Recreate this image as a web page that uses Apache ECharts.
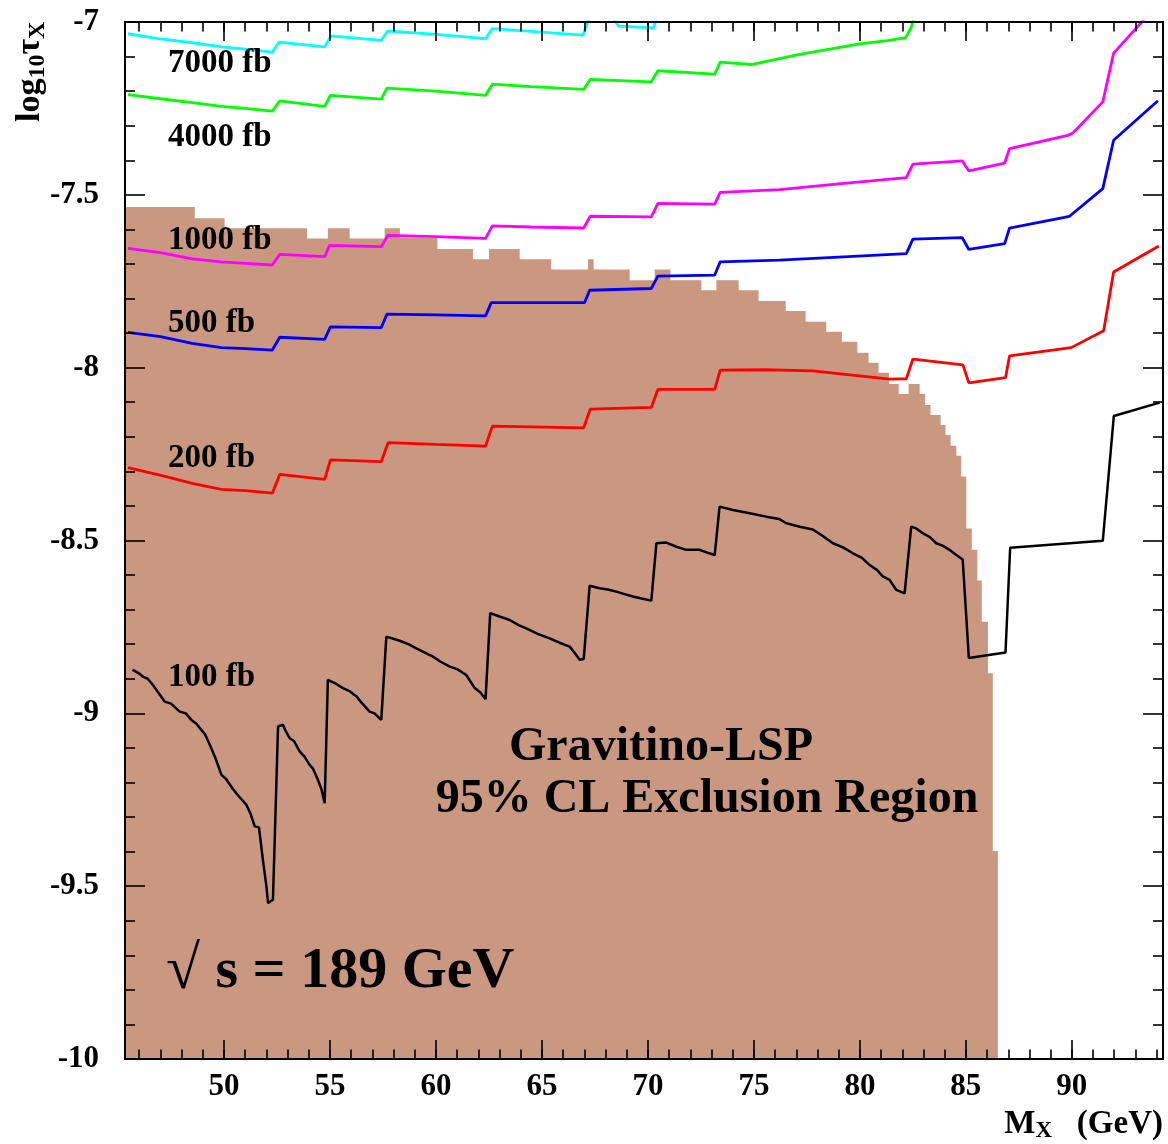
<!DOCTYPE html>
<html><head><meta charset="utf-8">
<script src="https://cdn.jsdelivr.net/npm/echarts/dist/echarts.min.js"></script>
<style>html,body{margin:0;padding:0;background:#fff}#c{width:1168px;height:1144px}</style>
</head><body><div id="c"></div>
<script>
// ---------- axis ranges / ticks ----------
const X_MIN = 45.33, X_MAX = 94.3;
const Y_MIN = -10, Y_MAX = -7;

// ---------- exclusion region (histogram bins) ----------
const exclEdges = [45.33, 48.62, 50.03, 53.92, 54.9, 55.93, 57.58, 58.3, 60.07, 61.75, 62.5, 63.95, 65.44, 67.17, 67.44, 69.14, 70.32, 71.06, 72.52, 73.23, 74.28, 75.22, 76.5, 77.44, 78.41, 79.15, 79.88, 80.41, 80.88, 81.37, 81.83, 82.3, 82.82, 83.08, 83.33, 83.81, 84.04, 84.28, 84.55, 84.78, 85.02, 85.28, 85.54, 85.75, 86.04, 86.27, 86.51];
const exclHeights = [-7.535, -7.568, -7.597, -7.626, -7.597, -7.626, -7.597, -7.624, -7.657, -7.686, -7.657, -7.686, -7.716, -7.686, -7.716, -7.747, -7.716, -7.747, -7.776, -7.747, -7.776, -7.807, -7.836, -7.867, -7.896, -7.925, -7.957, -7.986, -8.015, -8.047, -8.076, -8.047, -8.076, -8.108, -8.137, -8.166, -8.195, -8.226, -8.255, -8.315, -8.465, -8.527, -8.616, -8.735, -8.884, -9.398];

// ---------- sensitivity curves ----------
const cyanX = [45.47, 46.9, 48.5, 49.9, 51.2, 52.28, 52.6, 54.75, 55.05, 57.42, 57.72, 60.0, 62.34, 62.66, 64.5, 66.93, 67.28, 68.4, 68.6, 70.27, 70.45];
const cyanY = [-7.034, -7.048, -7.06, -7.072, -7.08, -7.087, -7.058, -7.072, -7.040, -7.053, -7.026, -7.036, -7.048, -7.019, -7.027, -7.038, -6.98, -6.99, -7.012, -7.017, -6.98];

const greenX = [45.47, 47.0, 48.5, 49.88, 51.0, 52.28, 52.63, 54.75, 55.02, 57.42, 57.69, 60.0, 62.34, 62.66, 64.5, 66.97, 67.28, 70.16, 70.47, 73.15, 73.41, 74.87, 76.2, 77.16, 79.99, 81.4, 82.16, 82.42, 82.6];
const greenY = [-7.21, -7.222, -7.233, -7.244, -7.25, -7.258, -7.228, -7.244, -7.212, -7.223, -7.191, -7.2, -7.212, -7.18, -7.187, -7.195, -7.166, -7.173, -7.141, -7.151, -7.116, -7.123, -7.106, -7.094, -7.063, -7.053, -7.045, -7.016, -6.98];

const magX = [45.47, 47.0, 48.5, 49.88, 51.0, 52.28, 52.63, 54.75, 54.98, 57.42, 57.74, 60.0, 62.34, 62.66, 64.5, 66.97, 67.28, 70.16, 70.47, 73.15, 73.41, 76.2, 79.0, 82.19, 82.5, 84.83, 85.14, 86.83, 87.06, 89.81, 90.05, 91.46, 91.97, 93.6];
const magY = [-7.655, -7.667, -7.685, -7.694, -7.698, -7.703, -7.672, -7.679, -7.646, -7.65, -7.617, -7.621, -7.626, -7.59, -7.593, -7.596, -7.562, -7.564, -7.525, -7.527, -7.493, -7.485, -7.468, -7.45, -7.411, -7.402, -7.431, -7.408, -7.366, -7.328, -7.321, -7.231, -7.09, -6.98];

const blueX = [45.47, 47.0, 48.5, 49.88, 51.0, 52.28, 52.63, 54.75, 55.02, 57.42, 57.69, 60.0, 62.34, 62.61, 64.5, 67.01, 67.25, 70.16, 70.47, 73.15, 73.41, 76.2, 79.0, 82.19, 82.5, 84.83, 85.14, 86.83, 87.06, 89.89, 91.46, 91.97, 94.06];
const blueY = [-7.898, -7.91, -7.93, -7.942, -7.945, -7.949, -7.912, -7.918, -7.882, -7.884, -7.845, -7.847, -7.85, -7.812, -7.812, -7.812, -7.776, -7.771, -7.735, -7.732, -7.694, -7.689, -7.68, -7.67, -7.628, -7.624, -7.658, -7.641, -7.596, -7.562, -7.482, -7.342, -7.228];

const redX = [45.47, 47.13, 48.5, 49.88, 51.0, 52.28, 52.63, 54.75, 55.02, 57.42, 57.74, 60.0, 62.34, 62.66, 64.5, 66.97, 67.28, 70.16, 70.47, 73.15, 73.41, 75.5, 77.78, 81.4, 82.19, 82.5, 84.86, 85.14, 86.87, 87.06, 89.97, 91.5, 91.97, 94.1];
const redY = [-8.289, -8.313, -8.335, -8.352, -8.356, -8.363, -8.309, -8.323, -8.267, -8.272, -8.217, -8.222, -8.227, -8.169, -8.171, -8.174, -8.12, -8.115, -8.063, -8.063, -8.007, -8.006, -8.009, -8.033, -8.032, -7.975, -7.992, -8.044, -8.029, -7.966, -7.942, -7.893, -7.723, -7.648];

const blackX = [45.68, 45.79, 46.0, 46.18, 46.4, 46.65, 46.9, 47.2, 47.5, 47.91, 48.2, 48.46, 48.7, 48.93, 49.1, 49.33, 49.6, 49.88, 50.1, 50.42, 50.7, 51.06, 51.25, 51.45, 51.65, 51.84, 52.0, 52.08, 52.31, 52.55, 52.78, 52.9, 53.1, 53.3, 53.57, 53.8, 54.04, 54.2, 54.43, 54.6, 54.75, 54.9, 55.07, 55.3, 55.61, 55.9, 56.25, 56.5, 56.87, 57.1, 57.42, 57.66, 58.29, 58.7, 59.07, 59.5, 59.86, 60.2, 60.65, 61.0, 61.43, 61.83, 62.1, 62.34, 62.56, 63.0, 63.48, 63.9, 64.26, 64.8, 65.36, 65.8, 66.31, 66.6, 66.78, 66.97, 67.25, 67.72, 68.1, 68.51, 68.9, 69.29, 69.7, 70.16, 70.4, 70.87, 71.34, 71.81, 72.44, 72.8, 73.15, 73.38, 74.01, 74.8, 75.58, 76.2, 76.53, 77.16, 77.78, 78.2, 78.73, 79.2, 79.67, 80.1, 80.46, 80.8, 81.08, 81.4, 81.72, 82.11, 82.42, 82.66, 82.97, 83.3, 83.6, 83.9, 84.23, 84.5, 84.85, 85.14, 86.87, 87.09, 91.46, 91.98, 94.14];
const blackY = [-8.874, -8.877, -8.885, -8.894, -8.9, -8.918, -8.94, -8.966, -8.972, -8.995, -9.0, -9.019, -9.03, -9.048, -9.06, -9.091, -9.13, -9.178, -9.19, -9.219, -9.24, -9.265, -9.29, -9.327, -9.33, -9.426, -9.5, -9.549, -9.539, -9.038, -9.033, -9.05, -9.072, -9.08, -9.11, -9.125, -9.149, -9.16, -9.192, -9.22, -9.26, -8.903, -8.908, -8.915, -8.927, -8.935, -8.951, -8.97, -8.995, -9.0, -9.019, -8.778, -8.79, -8.80, -8.812, -8.825, -8.836, -8.85, -8.865, -8.872, -8.889, -8.927, -8.94, -8.959, -8.71, -8.72, -8.73, -8.745, -8.754, -8.77, -8.783, -8.795, -8.807, -8.83, -8.845, -8.843, -8.631, -8.638, -8.642, -8.648, -8.655, -8.662, -8.668, -8.674, -8.508, -8.506, -8.518, -8.527, -8.527, -8.535, -8.542, -8.402, -8.412, -8.421, -8.431, -8.438, -8.45, -8.46, -8.468, -8.485, -8.508, -8.52, -8.537, -8.55, -8.571, -8.585, -8.604, -8.614, -8.643, -8.653, -8.46, -8.465, -8.479, -8.49, -8.508, -8.515, -8.527, -8.54, -8.555, -8.84, -8.824, -8.521, -8.501, -8.14, -8.101];

// ---------- texts ----------
const curveLabels = ['7000 fb', '4000 fb', '1000 fb', '500 fb', '200 fb', '100 fb'];
const curveLabelY = [63, 137, 240, 323, 458, 677];

const FONT = '"Liberation Serif","Times New Roman",serif';
const TAN = '#CA9880';

const chart = echarts.init(document.getElementById('c'), null, {renderer: 'canvas'});

function xAx(pos, major, labels) {
  return {
    type: 'value', position: pos, min: X_MIN, max: X_MAX,
    splitNumber: major ? 10 : 49, minInterval: major ? 5 : 1, maxInterval: major ? 5 : 1,
    axisLine: {show: true, onZero: false, lineStyle: {color: '#000', width: 2}},
    axisTick: {show: true, inside: true, length: major ? 19 : 9.5, lineStyle: {color: '#000', width: 1.6}},
    axisLabel: {show: labels, showMinLabel: false, showMaxLabel: false, color: '#000',
      fontFamily: FONT, fontWeight: 'bold', fontSize: 31, margin: 12},
    splitLine: {show: false}, axisPointer: {show: false}, z: 10
  };
}
function yAx(pos, labels) {
  return {
    type: 'value', position: pos, min: Y_MIN, max: Y_MAX, interval: 0.5,
    axisLine: {show: true, onZero: false, lineStyle: {color: '#000', width: 2}},
    axisTick: {show: true, inside: true, length: 20, lineStyle: {color: '#000', width: 1.6}},
    minorTick: {show: true, splitNumber: 5, length: 10, lineStyle: {color: '#000', width: 1.6}},
    axisLabel: {show: labels, color: '#000', fontFamily: FONT, fontWeight: 'bold', fontSize: 31, margin: 26},
    splitLine: {show: false}, minorSplitLine: {show: false}, axisPointer: {show: false}, z: 10
  };
}

function line(xs, ys, color, width) {
  return {type: 'line', data: xs.map((x, i) => [x, ys[i]]), symbol: 'none', showSymbol: false,
    lineStyle: {color: color, width: width}, itemStyle: {color: color}, clip: true, silent: true, z: 3,
    xAxisIndex: 0, yAxisIndex: 0};
}

const exclData = [];
for (let i = 0; i < exclHeights.length; i++) {
  exclData.push([exclEdges[i], exclHeights[i]], [exclEdges[i + 1], exclHeights[i]]);
}

const textStyle = (size) => ({fontFamily: FONT, fontWeight: 'bold', fontSize: size, fill: '#000'});

const graphics = curveLabels.map((t, i) => ({
  type: 'text', x: 168, y: curveLabelY[i], z: 20,
  style: Object.assign({text: t, align: 'left', verticalAlign: 'middle'}, textStyle(33))
}));
graphics.push(
  {type: 'text', x: 661, y: 748, z: 20, style: Object.assign({text: 'Gravitino-LSP', align: 'center', verticalAlign: 'middle'}, textStyle(48))},
  {type: 'text', x: 707, y: 800, z: 20, style: Object.assign({text: '95% CL Exclusion Region', align: 'center', verticalAlign: 'middle'}, textStyle(48))},
  {type: 'text', x: 166, y: 972, z: 20, style: {text: '{r|√ }{b|s = 189 GeV}', align: 'left', verticalAlign: 'middle',
    rich: {r: {fontFamily: FONT, fontSize: 62, fontWeight: 'normal', fill: '#000'},
           b: {fontFamily: FONT, fontSize: 58, fontWeight: 'bold', fill: '#000'}}}},
  {type: 'text', x: 1163, y: 1124, z: 20, style: {text: '{a|M}{s|X}{a|   (GeV)}', align: 'right', verticalAlign: 'middle',
    rich: {a: {fontFamily: FONT, fontSize: 33, fontWeight: 'bold', fill: '#000', lineHeight: 34},
           s: {fontFamily: FONT, fontSize: 23, fontWeight: 'bold', fill: '#000', padding: [15, 0, 0, 0], lineHeight: 19}}}},
  {type: 'text', x: 30, y: 122, rotation: Math.PI / 2, z: 20, style: {text: '{a|log}{s|10}{a|τ}{s|X}', align: 'left', verticalAlign: 'middle',
    rich: {a: {fontFamily: FONT, fontSize: 34, fontWeight: 'bold', fill: '#000', lineHeight: 34},
           s: {fontFamily: FONT, fontSize: 24, fontWeight: 'bold', fill: '#000', padding: [15, 0, 0, 0], lineHeight: 19}}}}
);

chart.setOption({
  animation: false,
  backgroundColor: '#fff',
  grid: {left: 125, right: 5, top: 22, bottom: 85, containLabel: false},
  xAxis: [xAx('bottom', true, true), xAx('bottom', false, false), xAx('top', true, false), xAx('top', false, false)],
  yAxis: [yAx('left', true), yAx('right', false)],
  series: [
    {type: 'line', data: exclData, symbol: 'none', showSymbol: false, silent: true, z: 1,
     lineStyle: {width: 0, opacity: 0}, areaStyle: {color: TAN, opacity: 1, origin: 'start'}},
    line(cyanX, cyanY, '#00FFFF', 2.8),
    line(greenX, greenY, '#00FF00', 2.8),
    line(magX, magY, '#FF00FF', 2.8),
    line(blueX, blueY, '#0000FF', 2.8),
    line(redX, redY, '#FF0000', 2.8),
    line(blackX, blackY, '#000000', 2.5)
  ],
  graphic: graphics
});
</script></body></html>
